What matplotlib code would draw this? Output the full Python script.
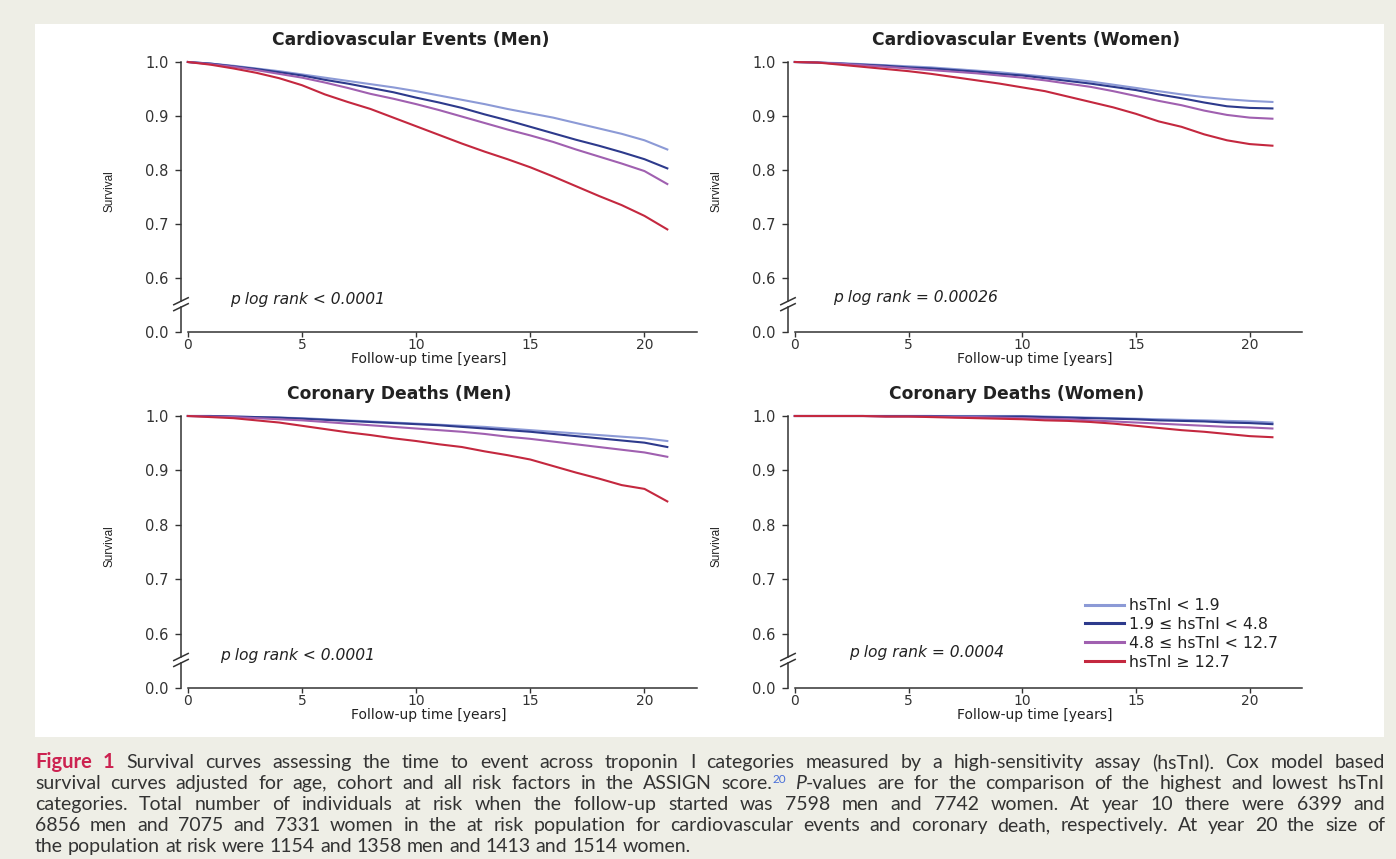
import matplotlib
matplotlib.use("Agg")
import matplotlib.pyplot as plt
from matplotlib.patches import Rectangle

# Data (survival at each follow-up year)
years = list(range(22))

labels = ["hsTnI < 1.9", "1.9 \u2264 hsTnI < 4.8", "4.8 \u2264 hsTnI < 12.7", "hsTnI \u2265 12.7"]
colors = ["#8c9ad6", "#2d3a8c", "#a060b0", "#c4283f"]

cv_men_1 = [1.0, 0.997, 0.993, 0.988, 0.983, 0.977, 0.971, 0.965, 0.959, 0.953, 0.946,
            0.938, 0.930, 0.922, 0.913, 0.905, 0.897, 0.887, 0.877, 0.867, 0.855, 0.838]
cv_men_2 = [1.0, 0.997, 0.992, 0.987, 0.981, 0.975, 0.967, 0.960, 0.952, 0.944, 0.934,
            0.925, 0.915, 0.903, 0.892, 0.880, 0.868, 0.856, 0.845, 0.833, 0.820, 0.803]
cv_men_3 = [1.0, 0.996, 0.991, 0.985, 0.978, 0.971, 0.962, 0.952, 0.941, 0.932, 0.922,
            0.911, 0.899, 0.887, 0.875, 0.864, 0.852, 0.838, 0.825, 0.812, 0.798, 0.774]
cv_men_4 = [1.0, 0.995, 0.988, 0.980, 0.970, 0.957, 0.940, 0.926, 0.913, 0.897, 0.881,
            0.865, 0.849, 0.834, 0.820, 0.805, 0.788, 0.770, 0.752, 0.735, 0.715, 0.690]

cv_women_1 = [1.0, 0.999, 0.998, 0.996, 0.994, 0.992, 0.990, 0.987, 0.984, 0.981, 0.977,
              0.973, 0.969, 0.964, 0.958, 0.952, 0.946, 0.940, 0.935, 0.931, 0.928, 0.926]
cv_women_2 = [1.0, 0.999, 0.997, 0.995, 0.993, 0.990, 0.988, 0.985, 0.982, 0.978, 0.975,
              0.970, 0.965, 0.960, 0.954, 0.948, 0.940, 0.933, 0.925, 0.918, 0.915, 0.914]
cv_women_3 = [1.0, 0.999, 0.997, 0.994, 0.991, 0.988, 0.985, 0.982, 0.979, 0.975, 0.971,
              0.966, 0.960, 0.954, 0.946, 0.937, 0.928, 0.920, 0.910, 0.902, 0.897, 0.895]
cv_women_4 = [1.0, 0.999, 0.995, 0.991, 0.987, 0.983, 0.978, 0.972, 0.966, 0.960, 0.953,
              0.946, 0.936, 0.926, 0.916, 0.904, 0.890, 0.880, 0.866, 0.855, 0.848, 0.845]

cd_men_1 = [1.0, 1.0, 0.999, 0.998, 0.997, 0.996, 0.994, 0.992, 0.990, 0.988, 0.986,
            0.984, 0.982, 0.980, 0.977, 0.974, 0.971, 0.968, 0.965, 0.962, 0.959, 0.954]
cd_men_2 = [1.0, 1.0, 0.999, 0.998, 0.997, 0.995, 0.993, 0.991, 0.989, 0.987, 0.985,
            0.983, 0.980, 0.977, 0.974, 0.971, 0.967, 0.963, 0.959, 0.955, 0.951, 0.943]
cd_men_3 = [1.0, 0.999, 0.998, 0.996, 0.994, 0.992, 0.989, 0.986, 0.983, 0.980, 0.977,
            0.974, 0.971, 0.967, 0.962, 0.958, 0.953, 0.948, 0.943, 0.938, 0.933, 0.925]
cd_men_4 = [1.0, 0.998, 0.996, 0.992, 0.988, 0.982, 0.976, 0.970, 0.965, 0.959, 0.954,
            0.948, 0.943, 0.935, 0.928, 0.920, 0.908, 0.896, 0.885, 0.873, 0.866, 0.843]

cd_women_1 = [1.0, 1.0, 1.0, 1.0, 1.0, 1.0, 1.0, 1.0, 1.0, 1.0, 1.0,
              0.999, 0.998, 0.997, 0.996, 0.995, 0.994, 0.993, 0.992, 0.991, 0.990, 0.988]
cd_women_2 = [1.0, 1.0, 1.0, 1.0, 1.0, 1.0, 1.0, 0.999, 0.999, 0.999, 0.999,
              0.998, 0.997, 0.996, 0.995, 0.994, 0.992, 0.991, 0.990, 0.988, 0.987, 0.985]
cd_women_3 = [1.0, 1.0, 1.0, 1.0, 0.999, 0.999, 0.999, 0.998, 0.998, 0.997, 0.996,
              0.995, 0.994, 0.992, 0.990, 0.988, 0.986, 0.984, 0.982, 0.980, 0.979, 0.977]
cd_women_4 = [1.0, 1.0, 1.0, 1.0, 0.999, 0.999, 0.998, 0.997, 0.996, 0.995, 0.994,
              0.992, 0.991, 0.989, 0.986, 0.982, 0.978, 0.974, 0.971, 0.967, 0.963, 0.961]

titles = ["Cardiovascular Events (Men)", "Cardiovascular Events (Women)",
          "Coronary Deaths (Men)", "Coronary Deaths (Women)"]
pvalues = ["p log rank < 0.0001", "p log rank = 0.00026",
           "p log rank < 0.0001", "p log rank = 0.0004"]
series = [[cv_men_1, cv_men_2, cv_men_3, cv_men_4],
          [cv_women_1, cv_women_2, cv_women_3, cv_women_4],
          [cd_men_1, cd_men_2, cd_men_3, cd_men_4],
          [cd_women_1, cd_women_2, cd_women_3, cd_women_4]]

ytick_vals = [0.5, 0.6, 0.7, 0.8, 0.9, 1.0]
ytick_labels = ["0.0", "0.6", "0.7", "0.8", "0.9", "1.0"]
xtick_vals = [0, 5, 10, 15, 20]

caption_lines = [
    "Figure 1 Survival curves assessing the time to event across troponin I categories measured by a high-sensitivity assay (hsTnI). Cox model based",
    "survival curves adjusted for age, cohort and all risk factors in the ASSIGN score.^20 P-values are for the comparison of the highest and lowest hsTnI",
    "categories. Total number of individuals at risk when the follow-up started was 7598 men and 7742 women. At year 10 there were 6399 and",
    "6856 men and 7075 and 7331 women in the at risk population for cardiovascular events and coronary death, respectively. At year 20 the size of",
    "the population at risk were 1154 and 1358 men and 1413 and 1514 women.",
]

plt.rcParams["font.family"] = ["DejaVu Sans"]

W, H = 1396, 859
fig = plt.figure(figsize=(W / 100, H / 100), dpi=100, facecolor="#eeeee6")
panel = Rectangle((35 / W, 1 - 737 / H), (1384 - 35) / W, (737 - 24) / H,
                  transform=fig.transFigure, facecolor="white", edgecolor="none", zorder=-10)
fig.patches.append(panel)

axis_col = "#333333"
text_col = "#222222"

# panel boxes in pixels: left, top, right, bottom
boxes = [(181, 62, 697, 332), (788, 62, 1302, 332),
         (181, 416, 697, 688), (788, 416, 1302, 688)]
title_x = [0.445, 0.463, 0.424, 0.445]
p_pos = [(1.84, 0.561), (1.67, 0.563), (1.4, 0.559), (2.4, 0.566)]

axes = []
for k, (l, t, r, b) in enumerate(boxes):
    ax = fig.add_axes([l / W, 1 - b / H, (r - l) / W, (b - t) / H])
    ax.set_facecolor("none")
    ax.set_xlim(-0.3, 22.3)
    ax.set_ylim(0.5, 1.0)
    for s in ["top", "right", "left"]:
        ax.spines[s].set_visible(False)
    ax.spines["bottom"].set_bounds(0, 22.3)
    ax.spines["bottom"].set_color(axis_col)
    ax.spines["bottom"].set_linewidth(1.1)

    # broken y axis
    yt = ax.get_yaxis_transform()
    ax.plot([0, 0], [0.5, 0.546], transform=yt, color=axis_col, lw=1.1, clip_on=False)
    ax.plot([0, 0], [0.557, 1.0], transform=yt, color=axis_col, lw=1.1, clip_on=False)
    for yc in [0.546, 0.557]:
        ax.plot([-0.014, 0.014], [yc - 0.0065, yc + 0.0065], transform=yt,
                color=axis_col, lw=1.1, clip_on=False)

    ax.set_yticks(ytick_vals)
    ax.set_yticklabels(ytick_labels)
    ax.set_xticks(xtick_vals)
    ax.tick_params(axis="both", direction="out", colors=axis_col, width=1)
    ax.tick_params(axis="y", length=4, pad=5, labelsize=10.5)
    ax.tick_params(axis="x", length=3.5, pad=1, labelsize=10)

    for vals, c, lab in zip(series[k], colors, labels):
        ax.plot(years, vals, color=c, lw=1.5, label=lab, clip_on=False)

    ax.text(title_x[k], 1 + 22 / (b - t), titles[k], transform=ax.transAxes,
            ha="center", va="center", fontsize=12.3, fontweight="bold", color=text_col)
    ax.text(p_pos[k][0], p_pos[k][1], pvalues[k], ha="left", va="center",
            fontsize=11.2, fontstyle="italic", color=text_col)
    ax.set_ylabel("Survival", fontsize=8.5, color=text_col, family="Liberation Sans")
    ax.yaxis.set_label_coords(-0.127, 0.52)
    ax.set_xlabel("Follow-up time [years]", fontsize=10, color=text_col)
    ax.xaxis.set_label_coords(0.48, -20.5 / (b - t))
    axes.append(ax)

leg = axes[3].legend(loc="upper left", bbox_to_anchor=(1085 / W, 1 - 598 / H),
                     bbox_transform=fig.transFigure, frameon=False, fontsize=11.3,
                     handlelength=2.5, handletextpad=0.3, labelspacing=0.25,
                     borderpad=0, borderaxespad=0)
for line in leg.get_lines():
    line.set_linewidth(2.2)
for txt in leg.get_texts():
    txt.set_color(text_col)

# caption, justified word by word
renderer = fig.canvas.get_renderer()
cap_left, cap_right = 35, 1385
cap_base = [768, 789, 810, 831, 852]
cap_font = "Lato"
cap_size = 14
normal = dict(fontsize=cap_size, color="#333333", family=cap_font)

for i, line in enumerate(caption_lines):
    words = line.split(" ")
    word_items = []
    for j, w in enumerate(words):
        if i == 0 and j < 2:
            segs = [(w, dict(fontsize=14.5, color="#cc2250", family=cap_font, fontweight="bold"), 0)]
        elif w == "score.^20":
            segs = [("score.", normal, 0),
                    ("20", dict(fontsize=8.5, color="#4a6fd8", family=cap_font), 6)]
        elif w == "P-values":
            segs = [("P", dict(normal, fontstyle="italic"), 0), ("-values", normal, 0)]
        else:
            segs = [(w, normal, 0)]
        texts = []
        for s, props, raise_px in segs:
            t = fig.text(0, 0, s, ha="left", va="baseline", **props)
            wpx = t.get_window_extent(renderer).width
            texts.append((t, wpx, raise_px))
        word_items.append(texts)
    widths = [sum(x[1] for x in wi) for wi in word_items]
    total = sum(widths)
    if i < len(caption_lines) - 1:
        gap = max((cap_right - cap_left - total) / (len(words) - 1), 2.0)
    else:
        gap = 5.0
    x = cap_left
    for j, wi in enumerate(word_items):
        for t, wpx, raise_px in wi:
            t.set_position((x / W, 1 - (cap_base[i] - raise_px) / H))
            x += wpx
        x += gap

fig.savefig("out.png", dpi=100, facecolor=fig.get_facecolor())
